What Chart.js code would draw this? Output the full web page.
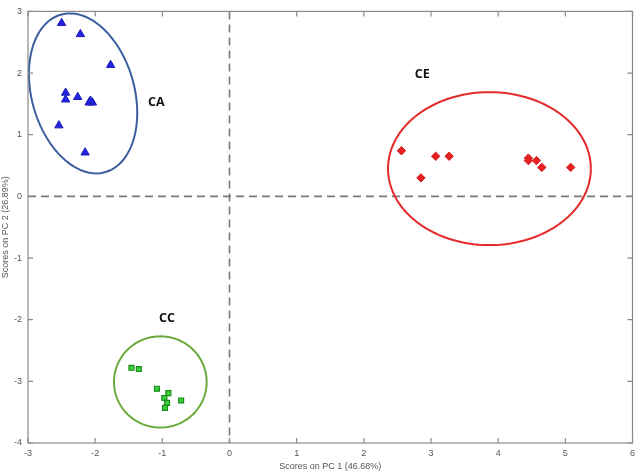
<!DOCTYPE html>
<html>
<head>
<meta charset="utf-8">
<script src="https://cdn.jsdelivr.net/npm/chart.js@4/dist/chart.umd.min.js"></script>
<style>
  html, body { margin: 0; padding: 0; background: #fff; }
  #wrap { width: 640px; height: 476px; }
</style>
</head>
<body>
<div id="wrap"><canvas id="c" width="640" height="476"></canvas></div>
<script>
// PCA scores
const caX = [-2.50, -2.22, -1.77, -2.44, -2.44, -2.26, -2.09, -2.04, -2.07, -2.54, -2.15];
const caY = [ 2.81,  2.63,  2.13,  1.68,  1.57,  1.61,  1.52,  1.52,  1.55,  1.15,  0.71];
const ceX = [2.56, 2.85, 3.07, 3.27, 4.45, 4.45, 4.57, 4.65, 5.08];
const ceY = [0.74, 0.30, 0.65, 0.65, 0.62, 0.58, 0.58, 0.47, 0.47];
const ccX = [-1.46, -1.35, -1.08, -0.91, -0.97, -0.93, -0.96, -0.72];
const ccY = [-2.78, -2.80, -3.12, -3.19, -3.27, -3.35, -3.43, -3.31];

// group labels and confidence ellipses (centre + two conjugate semi-axis vectors, data units)
const groupNames = ["CA", "CE", "CC"];
const labelX = [-1.09, 2.87, -0.93];
const labelY = [1.53, 1.98, -1.98];
const ellipseCentre = [[-2.18, 1.67], [3.87, 0.45], [-1.03, -3.01]];
const ellipseU = [[-0.32, 1.28], [1.51, 0], [0.69, 0]];
const ellipseV = [[0.74, 0.21], [0, 1.24], [0, 0.74]];
const ellipseColor = ["#3b5f9e", "#e52a2a", "#6aab3c"];

const xTicks = [-3, -2, -1, 0, 1, 2, 3, 4, 5, 6];
const yTicks = [-4, -3, -2, -1, 0, 1, 2, 3];

function pts(xs, ys) {
    return xs.map((x, i) => ({ x: x, y: ys[i] }));
}

const extras = {
    id: "extras",
    beforeDatasetsDraw(chart) {
        const ctx = chart.ctx;
        const xs = chart.scales.x, ys = chart.scales.y;
        const a = chart.chartArea;
        ctx.save();
        // dashed zero lines
        ctx.strokeStyle = "#7a7a7a";
        ctx.lineWidth = 1.6;
        ctx.setLineDash([8, 5]);
        const x0 = xs.getPixelForValue(0), y0 = ys.getPixelForValue(0);
        ctx.beginPath();
        ctx.moveTo(x0, a.top); ctx.lineTo(x0, a.bottom);
        ctx.moveTo(a.left, y0); ctx.lineTo(a.right, y0);
        ctx.stroke();
        ctx.setLineDash([]);
        // ellipses
        for (let i = 0; i < ellipseCentre.length; i++) {
            const c = ellipseCentre[i], u = ellipseU[i], v = ellipseV[i];
            const px = xs.getPixelForValue(c[0]), py = ys.getPixelForValue(c[1]);
            const ux = xs.getPixelForValue(c[0] + u[0]) - px, uy = ys.getPixelForValue(c[1] + u[1]) - py;
            const vx = xs.getPixelForValue(c[0] + v[0]) - px, vy = ys.getPixelForValue(c[1] + v[1]) - py;
            ctx.beginPath();
            for (let k = 0; k <= 120; k++) {
                const t = k / 120 * Math.PI * 2;
                const ex = px + ux * Math.cos(t) + vx * Math.sin(t);
                const ey = py + uy * Math.cos(t) + vy * Math.sin(t);
                if (k === 0) ctx.moveTo(ex, ey); else ctx.lineTo(ex, ey);
            }
            ctx.strokeStyle = ellipseColor[i];
            ctx.lineWidth = 2;
            ctx.stroke();
        }
        // group labels
        ctx.fillStyle = "#111";
        ctx.font = "bold 12.5px 'Open Sans', 'Liberation Sans', sans-serif";
        ctx.textAlign = "center";
        ctx.textBaseline = "middle";
        for (let i = 0; i < groupNames.length; i++) {
            ctx.fillText(groupNames[i], xs.getPixelForValue(labelX[i]), ys.getPixelForValue(labelY[i]));
        }
        ctx.restore();
    },
    afterDraw(chart) {
        const ctx = chart.ctx;
        const xs = chart.scales.x, ys = chart.scales.y;
        const a = chart.chartArea;
        ctx.save();
        ctx.strokeStyle = "#8a8a8a";
        ctx.lineWidth = 1.2;
        ctx.strokeRect(a.left, a.top, a.right - a.left, a.bottom - a.top);
        // inward ticks on all four sides
        ctx.beginPath();
        xTicks.forEach(v => {
            const p = xs.getPixelForValue(v);
            ctx.moveTo(p, a.bottom); ctx.lineTo(p, a.bottom - 5);
            ctx.moveTo(p, a.top); ctx.lineTo(p, a.top + 5);
        });
        yTicks.forEach(v => {
            const p = ys.getPixelForValue(v);
            ctx.moveTo(a.left, p); ctx.lineTo(a.left + 5, p);
            ctx.moveTo(a.right, p); ctx.lineTo(a.right - 5, p);
        });
        ctx.stroke();
        ctx.restore();
    }
};

const tickFont = { family: "'Liberation Sans', Arial", size: 9 };

function draw() {
    new Chart(document.getElementById("c").getContext("2d"), {
        type: "scatter",
        data: {
            datasets: [
                {
                    label: "CA",
                    data: pts(caX, caY),
                    pointStyle: "triangle",
                    pointRadius: 4.8,
                    backgroundColor: "#2323e0",
                    borderColor: "#1a1ab8",
                    borderWidth: 1
                },
                {
                    label: "CE",
                    data: pts(ceX, ceY),
                    pointStyle: "rectRot",
                    pointRadius: 4.2,
                    backgroundColor: "#e82222",
                    borderColor: "#d01818",
                    borderWidth: 1
                },
                {
                    label: "CC",
                    data: pts(ccX, ccY),
                    pointStyle: "rect",
                    pointRadius: 3.5,
                    backgroundColor: "#3ccf3c",
                    borderColor: "#1b8c1b",
                    borderWidth: 1.2
                }
            ]
        },
        options: {
            responsive: false,
            animation: false,
            layout: { padding: { top: 8, right: 7, bottom: 0, left: 0 } },
            plugins: {
                legend: { display: false },
                tooltip: { enabled: false }
            },
            scales: {
                x: {
                    type: "linear",
                    min: -3,
                    max: 6,
                    afterBuildTicks(scale) { scale.ticks = xTicks.map(v => ({ value: v })); },
                    afterFit(scale) { scale.height = 33; },
                    grid: { drawOnChartArea: false, drawTicks: false },
                    border: { display: false },
                    ticks: { color: "#555", font: tickFont, padding: 5 },
                    title: {
                        display: true,
                        text: "Scores on PC 1 (46.68%)",
                        color: "#555",
                        font: tickFont,
                        padding: { top: 0, bottom: 4 }
                    }
                },
                y: {
                    type: "linear",
                    min: -4,
                    max: 3,
                    afterBuildTicks(scale) { scale.ticks = yTicks.map(v => ({ value: v })); },
                    afterFit(scale) { scale.width = 28; },
                    grid: { drawOnChartArea: false, drawTicks: false },
                    border: { display: false },
                    ticks: { color: "#555", font: tickFont, padding: 6 },
                    title: {
                        display: true,
                        text: "Scores on PC 2 (26.89%)",
                        color: "#555",
                        font: tickFont,
                        padding: { top: 0, bottom: 0 }
                    }
                }
            }
        },
        plugins: [extras]
    });
}

document.fonts.load("bold 12.5px 'Open Sans'").then(draw, draw);
</script>
</body>
</html>
